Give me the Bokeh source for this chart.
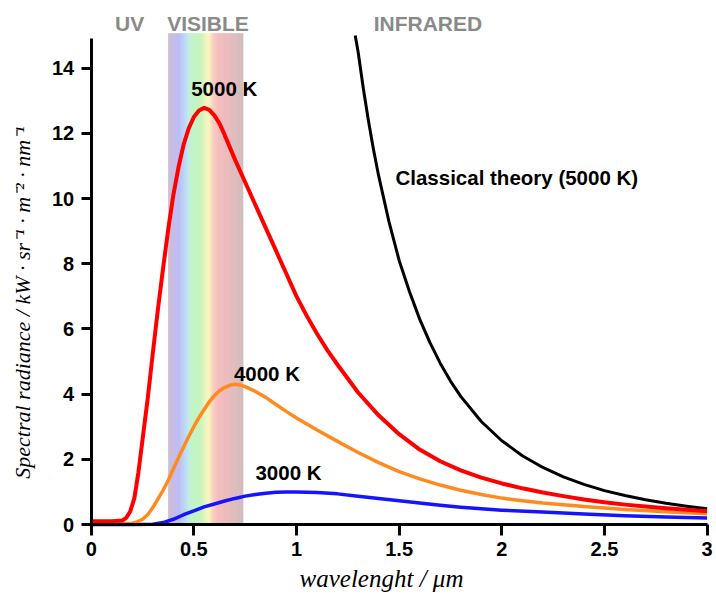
import numpy as np
from bokeh.plotting import figure
from bokeh.models import Range1d, FixedTicker, NumeralTickFormatter, Label, LinearAxis
from bokeh.embed import file_html
from bokeh.resources import INLINE

# ---------------- data ----------------
# 5000 K (red)
x_5000 = [0, 0.05, 0.10, 0.15, 0.17, 0.19, 0.21, 0.23, 0.25, 0.275, 0.30, 0.325, 0.35, 0.375,
          0.40, 0.425, 0.45, 0.475, 0.50, 0.525, 0.55, 0.575, 0.60, 0.625, 0.65, 0.70, 0.75,
          0.80, 0.85, 0.90, 0.95, 1.00, 1.05, 1.10, 1.15, 1.20, 1.30, 1.40, 1.50, 1.60, 1.70,
          1.80, 1.90, 2.00, 2.10, 2.20, 2.30, 2.40, 2.50, 2.60, 2.70, 2.80, 2.90, 3.00]
y_5000 = [0.1, 0.1, 0.1, 0.12, 0.2, 0.4, 0.8, 1.6, 2.6, 3.85, 5.25, 6.6, 7.85, 9.05,
          10.1, 10.95, 11.65, 12.15, 12.5, 12.7, 12.78, 12.72, 12.55, 12.3, 11.95, 11.2, 10.5,
          9.8, 9.1, 8.4, 7.7, 7.0, 6.4, 5.85, 5.35, 4.9, 4.05, 3.35, 2.77, 2.3, 1.94,
          1.66, 1.44, 1.26, 1.11, 0.98, 0.87, 0.77, 0.68, 0.61, 0.55, 0.5, 0.45, 0.41]

# 4000 K (orange)
x_4000 = [0, 0.10, 0.20, 0.225, 0.25, 0.275, 0.30, 0.325, 0.35, 0.375, 0.40, 0.425, 0.45,
          0.475, 0.50, 0.525, 0.55, 0.575, 0.60, 0.625, 0.65, 0.675, 0.70, 0.725, 0.75, 0.80,
          0.85, 0.90, 0.95, 1.00, 1.10, 1.20, 1.30, 1.40, 1.50, 1.60, 1.70, 1.80, 1.90, 2.00,
          2.10, 2.20, 2.40, 2.60, 2.80, 3.00]
y_4000 = [0.03, 0.03, 0.04, 0.08, 0.16, 0.3, 0.52, 0.78, 1.05, 1.35, 1.7, 2.05, 2.38,
          2.7, 3.0, 3.28, 3.53, 3.76, 3.95, 4.1, 4.2, 4.27, 4.3, 4.28, 4.23, 4.08,
          3.9, 3.68, 3.47, 3.27, 2.9, 2.55, 2.21, 1.9, 1.62, 1.4, 1.21, 1.05, 0.92, 0.81,
          0.73, 0.66, 0.55, 0.46, 0.39, 0.33]

# 3000 K (blue)
x_3000 = [0, 0.20, 0.30, 0.35, 0.40, 0.45, 0.50, 0.55, 0.60, 0.65, 0.70, 0.75, 0.80, 0.85,
          0.90, 0.95, 1.00, 1.10, 1.20, 1.30, 1.40, 1.50, 1.60, 1.70, 1.80, 1.90, 2.00, 2.20,
          2.40, 2.60, 2.80, 3.00]
y_3000 = [0.0, 0.0, 0.01, 0.06, 0.16, 0.3, 0.42, 0.54, 0.63, 0.72, 0.8, 0.87, 0.92, 0.96,
          0.99, 1.0, 1.0, 0.98, 0.94, 0.87, 0.8, 0.73, 0.66, 0.59, 0.53, 0.48, 0.44, 0.38,
          0.32, 0.27, 0.23, 0.2]

# Classical theory, 5000 K (black)
x_classic = [1.286, 1.30, 1.325, 1.35, 1.375, 1.40, 1.45, 1.50, 1.55, 1.60, 1.65, 1.70, 1.75,
             1.80, 1.90, 2.00, 2.10, 2.20, 2.30, 2.40, 2.50, 2.60, 2.70, 2.80, 2.90, 3.00]
y_classic = [15.0, 14.5, 13.4, 12.4, 11.5, 10.7, 9.3, 8.1, 7.15, 6.3, 5.58, 4.95, 4.4,
             3.93, 3.16, 2.57, 2.11, 1.75, 1.46, 1.23, 1.04, 0.89, 0.76, 0.65, 0.56, 0.48]

# visible band (µm) and its colour stops
visible_range = [0.375, 0.74]
band_stop_x = [0.375, 0.395, 0.425, 0.45, 0.47, 0.49, 0.53, 0.555, 0.575, 0.595, 0.62, 0.66, 0.70, 0.74]
band_stop_colors = ["#c8b4cc", "#c0b2dc", "#b2b2f4", "#b2c8f6", "#b6e4ee", "#b6f2be", "#bcf2b4",
                    "#e4f4b2", "#faf4b6", "#f6c6b6", "#f3b2b2", "#eab0b2", "#d8b2b3", "#c8b2b2"]

x_ticks = [0, 0.5, 1, 1.5, 2, 2.5, 3]
y_ticks = [0, 2, 4, 6, 8, 10, 12, 14]

x_label = "wavelenght / μm"
y_label = "Spectral radiance / kW · sr⁻¹ · m⁻² · nm⁻¹"

# ---------------- figure (frame fills the whole canvas) ----------------
BAND_TOP = 15.07
p = figure(width=716, height=594, x_range=Range1d(-0.4418, 3.0458), y_range=Range1d(-2.147, 16.074),
           output_backend="svg", toolbar_location=None,
           x_axis_location=None, y_axis_location=None,
           min_border_left=0, min_border_right=0, min_border_top=0, min_border_bottom=0)
p.outline_line_color = None
p.grid.visible = False
p.background_fill_color = "white"
p.border_fill_color = "white"

# spectrum band
def hex2rgb(h):
    h = h.lstrip("#")
    return np.array([int(h[i:i + 2], 16) for i in (0, 2, 4)], dtype=float)

stops_rgb = np.array([hex2rgb(c) for c in band_stop_colors])
N = 160
edges = np.linspace(visible_range[0], visible_range[1], N + 1)
mids = 0.5 * (edges[:-1] + edges[1:])
cols = []
for m in mids:
    rgb = [np.interp(m, band_stop_x, stops_rgb[:, k]) for k in range(3)]
    cols.append("#%02x%02x%02x" % tuple(int(round(v)) for v in rgb))
p.quad(left=edges[:-1], right=edges[1:] + 0.0008, bottom=0, top=BAND_TOP,
       fill_color=cols, line_color=None)

# curves
p.line(x_classic, y_classic, line_color="black", line_width=3, line_join="round")
p.line(x_3000, y_3000, line_color="#1414ff", line_width=3.5, line_join="round")
p.line(x_4000, y_4000, line_color="#ff8a1e", line_width=3.5, line_join="round")
p.line(x_5000, y_5000, line_color="#ff0000", line_width=4, line_join="round")

# axes drawn inside the frame at x = 0 and y = 0
xaxis = LinearAxis(fixed_location=0, bounds=(0, 3), ticker=FixedTicker(ticks=x_ticks),
                   formatter=NumeralTickFormatter(format="0.[0]"))
yaxis = LinearAxis(fixed_location=0, bounds=(0, 14.9), ticker=FixedTicker(ticks=y_ticks))
p.add_layout(xaxis, "below")
p.add_layout(yaxis, "left")
for ax in (xaxis, yaxis):
    ax.axis_line_width = 3
    ax.major_tick_line_width = 3
    ax.major_tick_in = 0
    ax.minor_tick_line_color = None
    ax.major_label_text_font = "Liberation Sans"
    ax.major_label_text_font_style = "bold"
    ax.major_label_text_font_size = "20px"
    ax.major_label_text_color = "black"
xaxis.major_tick_out = 11
xaxis.major_label_standoff = 6
yaxis.major_tick_out = 10
yaxis.major_label_standoff = 7

# labels
def add_label(text, x, y, size="20.5px", color="black", align="left", style="bold",
              font="Liberation Sans", angle=0.0):
    p.add_layout(Label(x=x, y=y, text=text, text_align=align, text_baseline="middle",
                       text_font=font, text_font_style=style, text_font_size=size,
                       text_color=color, angle=angle))

add_label("5000 K", 0.487, 13.37)
add_label("4000 K", 0.695, 4.63)
add_label("3000 K", 0.80, 1.6)
add_label("Classical theory (5000 K)", 1.482, 10.65)

add_label("UV", 0.187, 15.37, size="21px", color="#8a8a8a", align="center")
add_label("VISIBLE", 0.569, 15.37, size="21px", color="#8a8a8a", align="center")
add_label("INFRARED", 1.64, 15.37, size="21px", color="#8a8a8a", align="center")

# axis titles
add_label(x_label, 1.414, -1.66, size="25px", align="center", style="italic",
          font="Liberation Serif")
add_label(y_label, -0.335, 6.81, size="22px", align="center", style="italic",
          font="Liberation Serif", angle=np.pi / 2)

open("out.html", "w").write(file_html(p, INLINE))
